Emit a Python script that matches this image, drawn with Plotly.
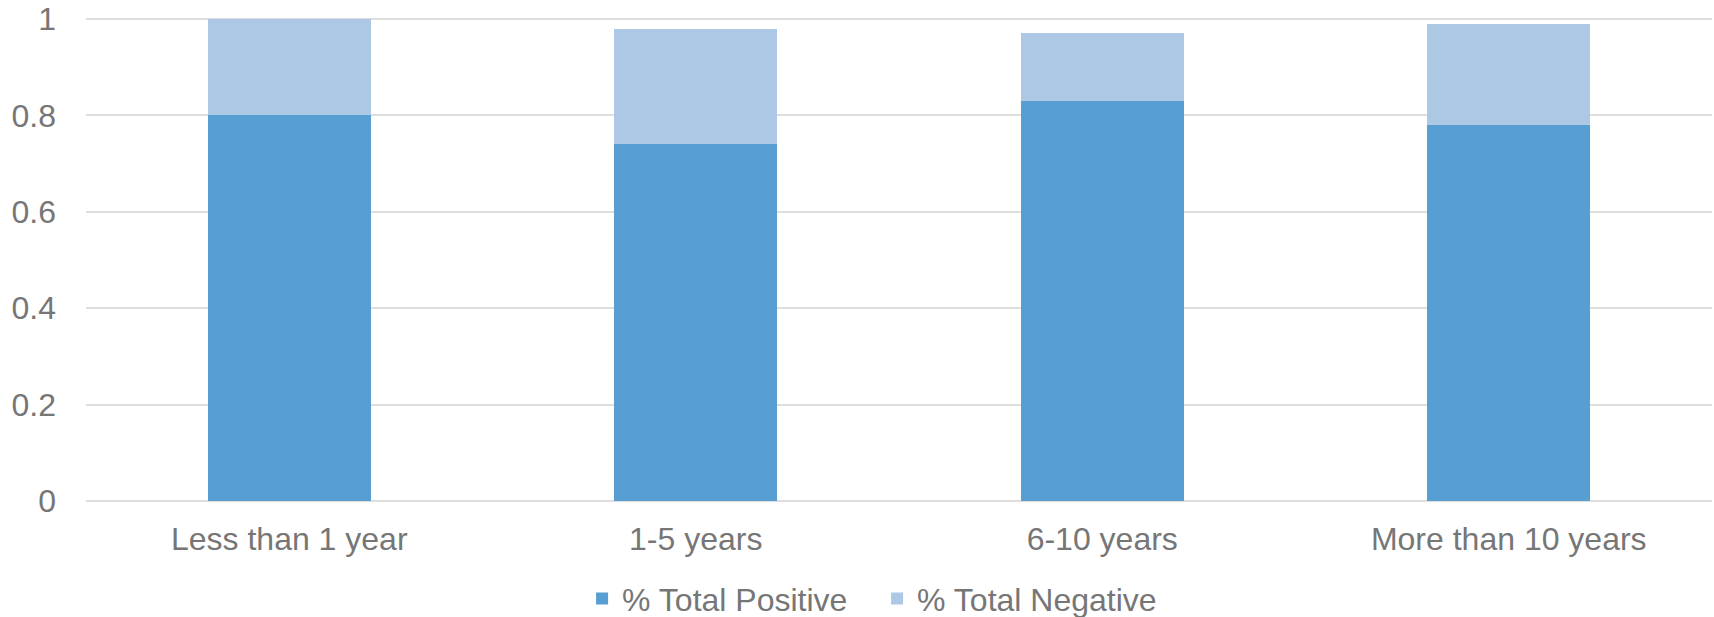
import plotly.graph_objects as go

categories = ["Less than 1 year", "1-5 years", "6-10 years", "More than 10 years"]
positive = [0.80, 0.74, 0.83, 0.78]
negative = [0.20, 0.24, 0.14, 0.21]
y_ticks = [0, 0.2, 0.4, 0.6, 0.8, 1]
y_tick_labels = ["0", "0.2", "0.4", "0.6", "0.8", "1"]

text_color = "#767676"
font_family = "Liberation Sans, Arial, sans-serif"

fig = go.Figure()
fig.add_trace(go.Bar(x=categories, y=positive, name="% Total Positive",
                     marker=dict(color="#579ED2", line=dict(width=0))))
fig.add_trace(go.Bar(x=categories, y=negative, name="% Total Negative",
                     marker=dict(color="#ADC8E5", line=dict(width=0))))

fig.update_layout(
    barmode="stack",
    bargap=0.6,
    width=1714, height=617,
    margin=dict(l=86, r=2, t=15, b=116, autoexpand=False),
    paper_bgcolor="white", plot_bgcolor="white",
    font=dict(family=font_family, size=32, color=text_color),
    showlegend=True,
    legend=dict(orientation="h", x=0.3396, xanchor="left", xref="container",
                y=-0.201, yanchor="middle", yref="paper",
                font=dict(size=32, color=text_color), itemwidth=30,
                entrywidth=250, entrywidthmode="pixels",
                traceorder="normal", bgcolor="rgba(0,0,0,0)"),
    xaxis=dict(showgrid=False, showline=False, zeroline=False, ticks="",
               automargin=False,
               tickfont=dict(size=32, color=text_color), ticklabelstandoff=16),
    yaxis=dict(range=[0, 1.0083], tickvals=y_ticks, ticktext=y_tick_labels,
               showgrid=True, gridcolor="#DEDEDE", gridwidth=2,
               zeroline=True, zerolinecolor="#DEDEDE", zerolinewidth=2,
               showline=False, ticks="", ticklabelstandoff=29, automargin=False,
               tickfont=dict(size=32, color=text_color)),
)

# Remove the default page margin so the figure fills the window exactly.
fig.write_html("out.html",
               config={"displayModeBar": False},
               post_script="document.body.style.margin='0';document.body.style.padding='0';")
